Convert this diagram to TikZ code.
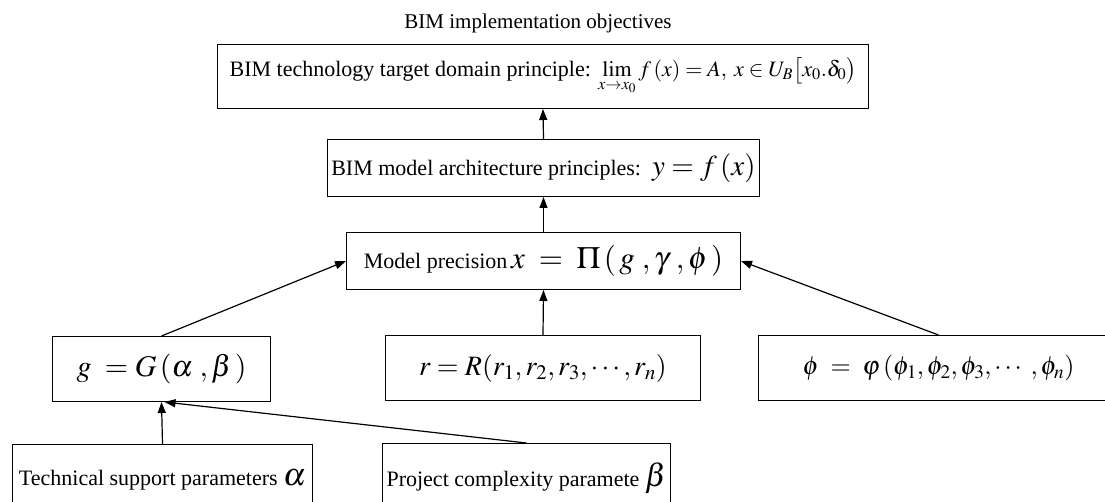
\documentclass[tikz,border=0pt]{standalone}
\usepackage{mathptmx}
\usepackage{fontspec}
\setmainfont{Liberation Serif}
\usetikzlibrary{arrows.meta}
\begin{document}
\begin{tikzpicture}[x=1pt,y=-1pt,
  box/.style={draw, line width=1pt, inner sep=0pt, anchor=north west, font=\fontsize{22}{26}\selectfont},
  arr/.style={line width=1.2pt, -{Triangle[length=11pt,width=8pt]}}]
\useasboundingbox (0,0) rectangle (1105,502);
\clip (0,0) rectangle (1105,502);
\node[font=\fontsize{21}{25}\selectfont] (title) at (538,23) {BIM implementation objectives};
\node[box, minimum width=651pt, minimum height=64pt] (top) at (217,44)
  {BIM technology target domain principle: $\lim\limits_{x\to x_0} f\,(x)=A,\; x\in U_B\bigl[x_0{.}\delta_0\bigr)$};
\node[box, minimum width=432pt, minimum height=57pt] (mid) at (327,139)
  {BIM model architecture principles:\, {\fontsize{29}{31}\selectfont $y=f\,(x)$}};
\node[box, minimum width=394pt, minimum height=57pt] (model) at (346,232)
  {Model precision\,{\fontsize{31}{33}\selectfont $x\;=\;\Pi\,(\,g\;,\gamma\;,\phi\,)$}};
\node[box, minimum width=218pt, minimum height=65pt] (g) at (52,336)
  {\fontsize{30}{32}\selectfont $g\;=G\,(\alpha\;,\beta\,)$};
\node[box, minimum width=315pt, minimum height=65pt] (r) at (385,335)
  {\fontsize{28}{30}\selectfont $r=R(r_1,r_2,r_3,\cdots,r_n)$};
\node[box, minimum width=360pt, minimum height=65pt] (phi) at (758,335)
  {\fontsize{26}{28}\selectfont $\phi\;=\;\varphi\,(\phi_1,\phi_2,\phi_3,\cdots\;,\phi_n)$};
\node[box, minimum width=300pt, minimum height=70pt] (tech) at (12,444)
  {Technical support parameters {\fontsize{32}{34}\selectfont$\alpha$}};
\node[box, minimum width=288pt, minimum height=70pt] (proj) at (382,443)
  {Project complexity paramete {\fontsize{32}{34}\selectfont$\beta$}};
\draw[arr] (mid.north) -- (top.south);
\draw[arr] (model.north) -- (mid.south);
\draw[arr] (r.north) -- (model.south);
\draw[arr] (g.north) -- (model.west);
\draw[arr] (phi.north) -- (model.east);
\draw[arr] (tech.north) -- (g.south);
\draw[arr] (proj.north) -- ([xshift=3pt]g.south);
\end{tikzpicture}
\end{document}
